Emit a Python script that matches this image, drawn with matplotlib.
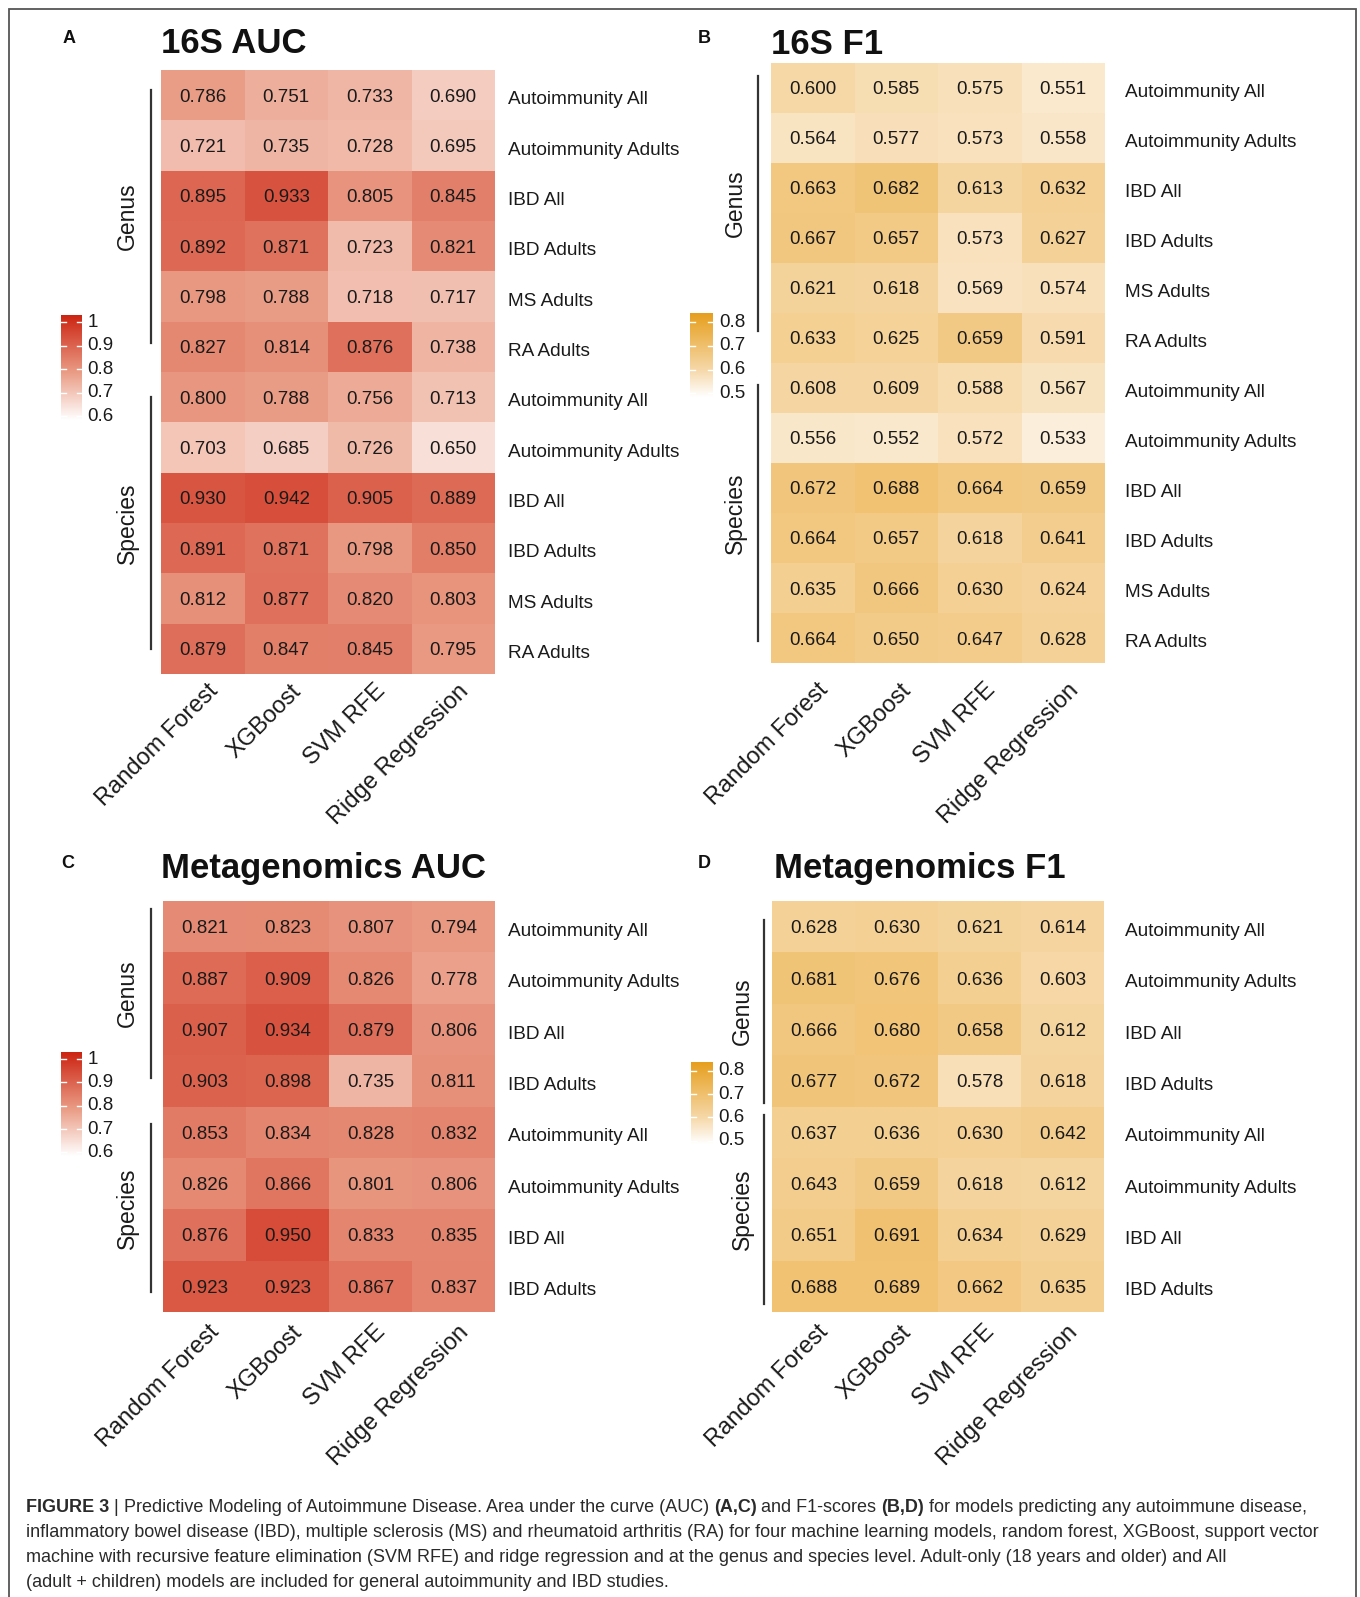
import numpy as np
import matplotlib
matplotlib.use("Agg")
import matplotlib.pyplot as plt
from matplotlib.colors import LinearSegmentedColormap, Normalize
from matplotlib import transforms
from matplotlib.patches import Rectangle

W, H = 1360, 1597

# ---------------- data ----------------
models = ["Random Forest", "XGBoost", "SVM RFE", "Ridge Regression"]
rows_16s = ["Autoimmunity All", "Autoimmunity Adults", "IBD All", "IBD Adults", "MS Adults", "RA Adults"]
rows_meta = ["Autoimmunity All", "Autoimmunity Adults", "IBD All", "IBD Adults"]
levels = ["Genus", "Species"]

auc16_genus = [[0.786, 0.751, 0.733, 0.690],
               [0.721, 0.735, 0.728, 0.695],
               [0.895, 0.933, 0.805, 0.845],
               [0.892, 0.871, 0.723, 0.821],
               [0.798, 0.788, 0.718, 0.717],
               [0.827, 0.814, 0.876, 0.738]]
auc16_species = [[0.800, 0.788, 0.756, 0.713],
                 [0.703, 0.685, 0.726, 0.650],
                 [0.930, 0.942, 0.905, 0.889],
                 [0.891, 0.871, 0.798, 0.850],
                 [0.812, 0.877, 0.820, 0.803],
                 [0.879, 0.847, 0.845, 0.795]]

f116_genus = [[0.600, 0.585, 0.575, 0.551],
              [0.564, 0.577, 0.573, 0.558],
              [0.663, 0.682, 0.613, 0.632],
              [0.667, 0.657, 0.573, 0.627],
              [0.621, 0.618, 0.569, 0.574],
              [0.633, 0.625, 0.659, 0.591]]
f116_species = [[0.608, 0.609, 0.588, 0.567],
                [0.556, 0.552, 0.572, 0.533],
                [0.672, 0.688, 0.664, 0.659],
                [0.664, 0.657, 0.618, 0.641],
                [0.635, 0.666, 0.630, 0.624],
                [0.664, 0.650, 0.647, 0.628]]

aucmeta_genus = [[0.821, 0.823, 0.807, 0.794],
                 [0.887, 0.909, 0.826, 0.778],
                 [0.907, 0.934, 0.879, 0.806],
                 [0.903, 0.898, 0.735, 0.811]]
aucmeta_species = [[0.853, 0.834, 0.828, 0.832],
                   [0.826, 0.866, 0.801, 0.806],
                   [0.876, 0.950, 0.833, 0.835],
                   [0.923, 0.923, 0.867, 0.837]]

f1meta_genus = [[0.628, 0.630, 0.621, 0.614],
                [0.681, 0.676, 0.636, 0.603],
                [0.666, 0.680, 0.658, 0.612],
                [0.677, 0.672, 0.578, 0.618]]
f1meta_species = [[0.637, 0.636, 0.630, 0.642],
                  [0.643, 0.659, 0.618, 0.612],
                  [0.651, 0.691, 0.634, 0.629],
                  [0.688, 0.689, 0.662, 0.635]]

auc_ticks = [0.6, 0.7, 0.8, 0.9, 1.0]
auc_tick_labels = ["0.6", "0.7", "0.8", "0.9", "1"]
f1_ticks = [0.5, 0.6, 0.7, 0.8]
f1_tick_labels = ["0.5", "0.6", "0.7", "0.8"]

caption_lines = [
    [("FIGURE 3", True), ("|", False), ("Predictive Modeling of Autoimmune Disease. Area under the curve (AUC)", False),
     ("(A,C)", True), ("and F1-scores", False), ("(B,D)", True), ("for models predicting any autoimmune disease,", False)],
    [("inflammatory bowel disease (IBD), multiple sclerosis (MS) and rheumatoid arthritis (RA) for four machine learning models, random forest, XGBoost, support vector", False)],
    [("machine with recursive feature elimination (SVM RFE) and ridge regression and at the genus and species level. Adult-only (18 years and older) and All", False)],
    [("(adult + children) models are included for general autoimmunity and IBD studies.", False)],
]

# ---------------- styles ----------------
FONT = ["Liberation Sans", "DejaVu Sans"]
CAPFONT = ["Liberation Sans", "DejaVu Sans"]
plt.rcParams["font.family"] = FONT

auc_cmap = LinearSegmentedColormap.from_list("auc", [(0.0, "#FFFFFF"), (0.445, "#EA9E87"), (1.0, "#CC2412")])
f1_cmap = LinearSegmentedColormap.from_list("f1", [(0.0, "#FFFFFF"), (0.32, "#F6D8A8"), (1.0, "#E69E1A")])
auc_range = (0.585, 1.03)
f1_range = (0.485, 0.838)

fig = plt.figure(figsize=(W / 100, H / 100), dpi=100)
fig.patch.set_facecolor("white")


def fx(x):
    return x / W


def fy(y):
    return 1 - y / H


def add_px_axes(x0, y0, x1, y1):
    return fig.add_axes([fx(x0), fy(y1), (x1 - x0) / W, (y1 - y0) / H])


def draw_panel(lay, title, letter, row_labels, genus, species, cmap, vrange, ticks, tick_labels):
    data = np.array(genus + species)
    n = data.shape[0]
    norm = Normalize(*vrange)
    ax = add_px_axes(*lay["heat"])
    ax.pcolormesh(np.arange(5), np.arange(n + 1), data, cmap=cmap, norm=norm,
                  shading="flat", linewidth=0, antialiased=False)
    ax.set_xlim(0, 4)
    ax.set_ylim(n, 0)
    ax.axis("off")
    for i in range(n):
        for j in range(4):
            ax.text(j + 0.5, i + 0.5, f"{data[i, j]:.3f}", ha="center", va="center_baseline",
                    fontsize=13.5, color="#1a1a1a")
    tr = transforms.blended_transform_factory(fig.transFigure, ax.transData)
    labels = row_labels + row_labels
    for i, lab in enumerate(labels):
        ax.text(fx(lay["rowlab_x"]), i + 0.55, lab, transform=tr, ha="left", va="center_baseline",
                fontsize=13.7, color="#1a1a1a")
    # x labels
    x0, y0, x1, y1 = lay["heat"]
    cw = (x1 - x0) / 4
    for j, m in enumerate(models):
        fig.text(fx(x0 + (j + 0.5) * cw + 4), fy(lay["xlab_y"]), m, rotation=45,
                 ha="right", va="top", rotation_mode="anchor", fontsize=17, color="#1a1a1a")
    # brackets and group labels
    for (b0, b1), lv in zip(lay["brackets"], levels):
        fig.add_artist(plt.Line2D([fx(lay["bracket_x"])] * 2, [fy(b0), fy(b1)],
                                  color="#333333", lw=1.6, transform=fig.transFigure))
        fig.text(fx(lay["group_x"]), fy((b0 + b1) / 2), lv, rotation=90, ha="center",
                 va="center", fontsize=16.5, color="#1a1a1a")
    # titles
    fig.text(fx(lay["title"][0]), fy(lay["title"][1]), title, ha="left", va="baseline",
             fontsize=25, fontweight="bold", color="#111111")
    fig.text(fx(lay["letter"][0]), fy(lay["letter"][1]), letter, ha="left", va="baseline",
             fontsize=13, fontweight="bold", color="#111111")
    # colorbar
    cax = add_px_axes(*lay["cbar"])
    lo, hi = vrange
    grad = np.linspace(lo, hi, 256).reshape(-1, 1)
    cax.imshow(grad, cmap=cmap, norm=norm, aspect="auto", origin="lower", extent=(0, 1, lo, hi))
    cax.set_xlim(0, 1)
    cax.set_ylim(lo, hi)
    cax.axis("off")
    ctr = transforms.blended_transform_factory(cax.transAxes, cax.transData)
    for t, tl in zip(ticks, tick_labels):
        cax.plot([0, 0.22], [t, t], color="white", lw=1.0, transform=ctr)
        cax.plot([0.78, 1], [t, t], color="white", lw=1.0, transform=ctr)
        cax.text(1.25, t, tl, transform=ctr, ha="left", va="center", fontsize=13.5, color="#1a1a1a")


layA = dict(heat=(161, 70, 495, 674), title=(161, 53), letter=(63, 43), rowlab_x=508, xlab_y=680,
            bracket_x=151, group_x=127, brackets=[(90, 343), (397, 649)], cbar=(61, 315, 82, 420))
layB = dict(heat=(771, 63, 1105, 663), title=(771, 54), letter=(698, 43), rowlab_x=1125, xlab_y=679,
            bracket_x=758, group_x=735, brackets=[(76, 331), (385, 641)], cbar=(690, 313, 713, 397))
layC = dict(heat=(163, 901, 495, 1312), title=(161, 878), letter=(61, 868), rowlab_x=508, xlab_y=1321,
            bracket_x=151, group_x=127, brackets=[(909, 1078), (1124, 1292)], cbar=(61, 1052, 82, 1156))
layD = dict(heat=(772, 901, 1104, 1312), title=(774, 878), letter=(698, 868), rowlab_x=1125, xlab_y=1321,
            bracket_x=764, group_x=742, brackets=[(920, 1103), (1115, 1304)], cbar=(691, 1062, 713, 1144))

draw_panel(layA, "16S AUC", "A", rows_16s, auc16_genus, auc16_species, auc_cmap, auc_range, auc_ticks, auc_tick_labels)
draw_panel(layB, "16S F1", "B", rows_16s, f116_genus, f116_species, f1_cmap, f1_range, f1_ticks, f1_tick_labels)
draw_panel(layC, "Metagenomics AUC", "C", rows_meta, aucmeta_genus, aucmeta_species, auc_cmap, auc_range, auc_ticks, auc_tick_labels)
draw_panel(layD, "Metagenomics F1", "D", rows_meta, f1meta_genus, f1meta_species, f1_cmap, f1_range, f1_ticks, f1_tick_labels)

# ---------------- border ----------------
fig.add_artist(Rectangle((fx(9), fy(H + 20)), (1356 - 9) / W, (H + 20 - 9) / H, fill=False,
                         edgecolor="#555555", lw=1.3, transform=fig.transFigure))

# ---------------- caption ----------------
renderer = fig.canvas.get_renderer()


def text_width(s, bold, size):
    t = fig.text(0, 0, s, fontsize=size, family=CAPFONT, fontweight="bold" if bold else "normal")
    w = t.get_window_extent(renderer).width
    t.remove()
    return w


def line_width(pieces, size):
    sp = text_width("a a", False, size) - text_width("aa", False, size)
    tot = sum(text_width(s, b, size) for s, b in pieces)
    return tot + sp * (len(pieces) - 1), sp


base = 14.0
w1, _ = line_width(caption_lines[0], base)
cap_size = base * (1286 / w1)
baselines = [1512, 1537, 1562, 1587]
cap_x0 = 25.5
for pieces, by in zip(caption_lines, baselines):
    _, sp = line_width(pieces, cap_size)
    x = cap_x0
    for s, b in pieces:
        fig.text(fx(x), fy(by), s, fontsize=cap_size, family=CAPFONT,
                 fontweight="bold" if b else "normal", color="#2a2a2a", ha="left", va="baseline")
        x += text_width(s, b, cap_size) + sp

fig.savefig("out.png", dpi=100, facecolor="white")
